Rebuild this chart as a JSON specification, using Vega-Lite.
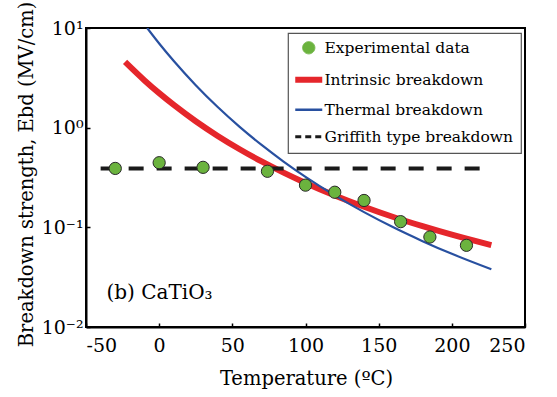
{
  "$schema": "https://vega.github.io/schema/vega-lite/v6.json",
  "width": 439,
  "height": 299,
  "autosize": "none",
  "padding": {"left": 86, "top": 28, "right": 32, "bottom": 70},
  "background": "white",
  "config": {
    "font": "DejaVu Serif",
    "view": {"stroke": "black", "strokeWidth": 2},
    "axis": {
      "grid": false,
      "domainColor": "black",
      "domainWidth": 2,
      "tickColor": "black",
      "tickWidth": 1.5,
      "tickSize": -4,
      "labelFont": "DejaVu Serif",
      "labelFontSize": 19,
      "labelColor": "black",
      "titleFont": "DejaVu Serif",
      "titleFontSize": 19.5,
      "titleColor": "black",
      "titleFontWeight": "normal"
    }
  },
  "data": {
    "values": [
      {"series": "Experimental data", "x": -30, "y": 0.39},
      {"series": "Experimental data", "x": 0, "y": 0.445},
      {"series": "Experimental data", "x": 30, "y": 0.4},
      {"series": "Experimental data", "x": 74, "y": 0.365},
      {"series": "Experimental data", "x": 100, "y": 0.265},
      {"series": "Experimental data", "x": 120, "y": 0.225},
      {"series": "Experimental data", "x": 140, "y": 0.186},
      {"series": "Experimental data", "x": 165, "y": 0.114},
      {"series": "Experimental data", "x": 185, "y": 0.08},
      {"series": "Experimental data", "x": 210, "y": 0.066},
      {"series": "Intrinsic breakdown", "x": -23.3, "y": 4.57},
      {"series": "Intrinsic breakdown", "x": -10, "y": 2.98},
      {"series": "Intrinsic breakdown", "x": 0, "y": 2.22},
      {"series": "Intrinsic breakdown", "x": 10, "y": 1.69},
      {"series": "Intrinsic breakdown", "x": 25, "y": 1.16},
      {"series": "Intrinsic breakdown", "x": 40, "y": 0.826},
      {"series": "Intrinsic breakdown", "x": 55, "y": 0.607},
      {"series": "Intrinsic breakdown", "x": 70, "y": 0.458},
      {"series": "Intrinsic breakdown", "x": 85, "y": 0.354},
      {"series": "Intrinsic breakdown", "x": 100, "y": 0.279},
      {"series": "Intrinsic breakdown", "x": 120, "y": 0.209},
      {"series": "Intrinsic breakdown", "x": 140, "y": 0.161},
      {"series": "Intrinsic breakdown", "x": 160, "y": 0.127},
      {"series": "Intrinsic breakdown", "x": 180, "y": 0.1027},
      {"series": "Intrinsic breakdown", "x": 200, "y": 0.0843},
      {"series": "Intrinsic breakdown", "x": 227, "y": 0.0662},
      {"series": "Thermal breakdown", "x": -8.2, "y": 10},
      {"series": "Thermal breakdown", "x": 0, "y": 7.0},
      {"series": "Thermal breakdown", "x": 10, "y": 4.67},
      {"series": "Thermal breakdown", "x": 25, "y": 2.67},
      {"series": "Thermal breakdown", "x": 40, "y": 1.61},
      {"series": "Thermal breakdown", "x": 55, "y": 1.019},
      {"series": "Thermal breakdown", "x": 70, "y": 0.671},
      {"series": "Thermal breakdown", "x": 85, "y": 0.457},
      {"series": "Thermal breakdown", "x": 100, "y": 0.321},
      {"series": "Thermal breakdown", "x": 120, "y": 0.209},
      {"series": "Thermal breakdown", "x": 140, "y": 0.142},
      {"series": "Thermal breakdown", "x": 160, "y": 0.1},
      {"series": "Thermal breakdown", "x": 180, "y": 0.0727},
      {"series": "Thermal breakdown", "x": 200, "y": 0.0542},
      {"series": "Thermal breakdown", "x": 227, "y": 0.0379},
      {"series": "Griffith type breakdown", "x": -40, "y": 0.39},
      {"series": "Griffith type breakdown", "x": 223, "y": 0.39}
    ]
  },
  "encoding": {
    "x": {
      "field": "x",
      "type": "quantitative",
      "scale": {"domain": [-50, 250], "nice": false, "zero": false},
      "axis": {
        "values": [-50, 0, 50, 100, 150, 200, 250],
        "labelExpr": "datum.value < 0 ? '-' + abs(datum.value) : '' + datum.value",
        "title": "Temperature (ºC)",
        "labelPadding": 13,
        "titleX": 220,
        "titleY": 51,
        "titleBaseline": "middle",
        "titleAlign": "center"
      }
    },
    "y": {
      "field": "y",
      "type": "quantitative",
      "scale": {"type": "log", "domain": [0.01, 10], "nice": false},
      "axis": {
        "values": [0.01, 0.1, 1, 10],
        "labelExpr": "datum.value >= 5 ? '10¹' : datum.value >= 0.5 ? '10⁰' : datum.value >= 0.05 ? '10⁻¹' : '10⁻²'",
        "labelPadding": 7,
        "title": "Breakdown strength, Ebd (MV/cm)",
        "titleX": -60,
        "titleY": 146,
        "titleAngle": -90,
        "titleAlign": "center",
        "titleBaseline": "middle"
      }
    }
  },
  "layer": [
    {
      "transform": [{"filter": "datum.series === 'Intrinsic breakdown'"}],
      "mark": {"type": "line", "strokeWidth": 6, "interpolate": "monotone"},
      "encoding": {
        "color": {
          "field": "series",
          "type": "nominal",
          "scale": {
            "domain": ["Experimental data", "Intrinsic breakdown", "Thermal breakdown", "Griffith type breakdown"],
            "range": ["#6bb33e", "#e5262b", "#2850a0", "#1a1a1a"]
          },
          "legend": {
            "title": null,
            "orient": "top-right",
            "offset": 4.5,
            "strokeColor": "#555555",
            "fillColor": "white",
            "padding": 7,
            "symbolOffset": 6,
            "symbolSize": 729,
            "rowPadding": 10,
            "labelOffset": 8,
            "labelLimit": 0,
            "labelFont": "DejaVu Serif",
            "labelFontSize": 15.5,
            "labelColor": "black",
            "encode": {
              "legend": {"update": {"strokeWidth": {"value": 1.2}}},
              "symbols": {
                "update": {
                  "shape": {"signal": "datum.value === 'Experimental data' ? 'circle' : 'stroke'"},
                  "size": {"signal": "datum.value === 'Experimental data' ? 150 : 729"},
                  "strokeWidth": {"signal": "datum.value === 'Experimental data' ? 1 : datum.value === 'Intrinsic breakdown' ? 6 : datum.value === 'Thermal breakdown' ? 2.5 : 3"},
                  "strokeDash": {"signal": "datum.value === 'Griffith type breakdown' ? [6, 4] : [1, 0]"},
                  "fill": {"signal": "datum.value === 'Experimental data' ? '#6bb33e' : 'transparent'"},
                  "stroke": {"signal": "datum.value === 'Experimental data' ? '#2a2a2a' : datum.value === 'Intrinsic breakdown' ? '#e5262b' : datum.value === 'Thermal breakdown' ? '#2850a0' : '#1a1a1a'"},
                  "opacity": {"value": 1}
                }
              }
            }
          }
        }
      }
    },
    {
      "transform": [{"filter": "datum.series === 'Thermal breakdown'"}],
      "mark": {"type": "line", "strokeWidth": 2.2, "interpolate": "monotone", "clip": true},
      "encoding": {
        "color": {"field": "series", "type": "nominal"}
      }
    },
    {
      "transform": [{"filter": "datum.series === 'Griffith type breakdown'"}],
      "mark": {"type": "line", "strokeWidth": 4, "strokeDash": [15, 13]},
      "encoding": {
        "color": {"field": "series", "type": "nominal"}
      }
    },
    {
      "transform": [{"filter": "datum.series === 'Experimental data'"}],
      "mark": {"type": "circle", "size": 150, "opacity": 1, "stroke": "#2a2a2a", "strokeWidth": 1},
      "encoding": {
        "color": {"field": "series", "type": "nominal"}
      }
    },
    {
      "data": {"values": [{"x": -36, "y": 0.022, "label": "(b) CaTiO₃"}]},
      "mark": {"type": "text", "align": "left", "baseline": "middle", "fontSize": 20, "font": "DejaVu Serif", "color": "black"},
      "encoding": {
        "text": {"field": "label"}
      }
    }
  ]
}
